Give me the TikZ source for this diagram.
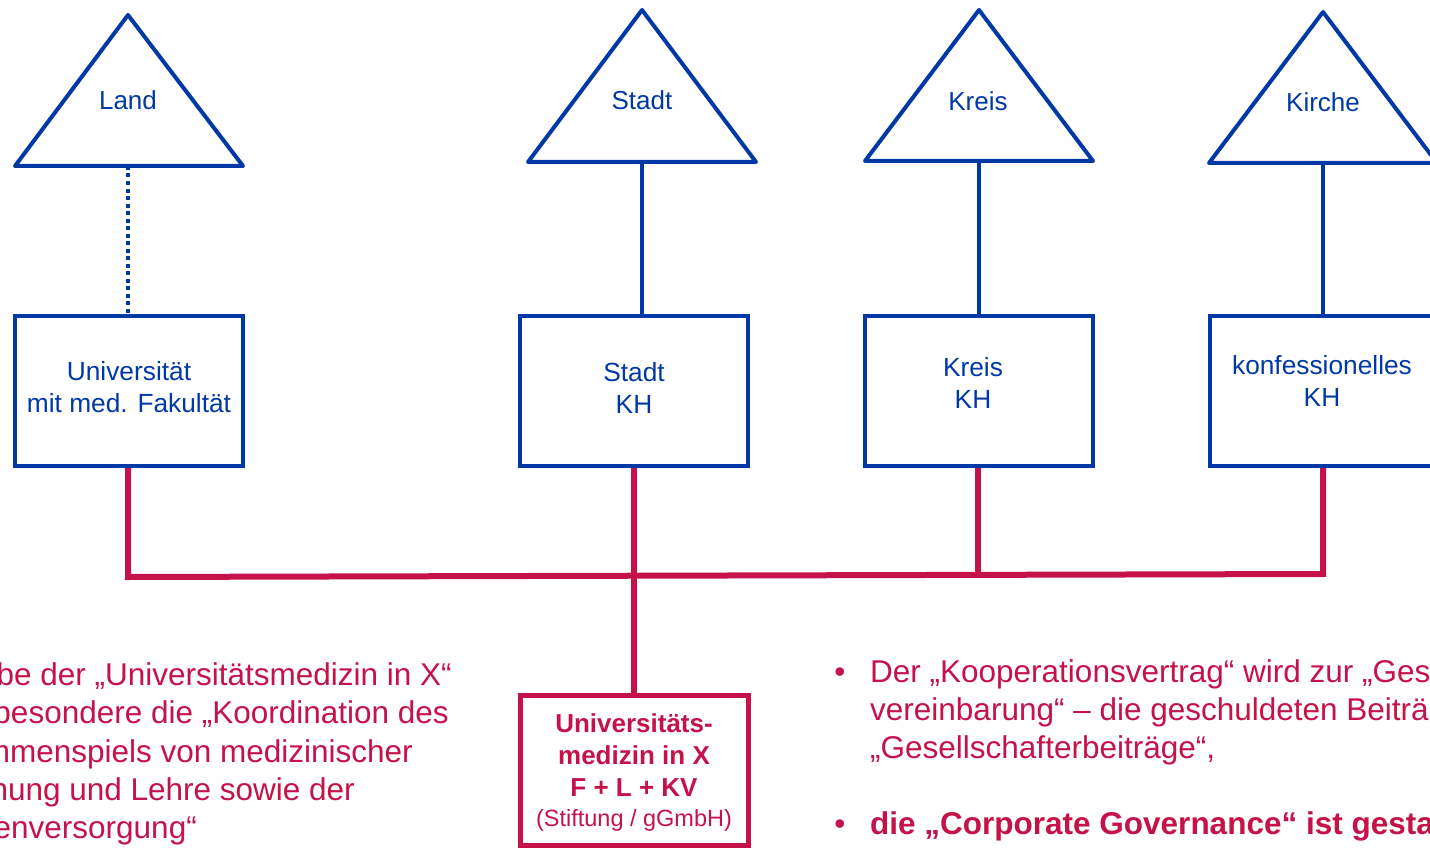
\documentclass[tikz,border=0pt]{standalone}
\usepackage{fontspec}
\setmainfont{Liberation Sans}
\definecolor{uniblue}{RGB}{0,57,166}
\definecolor{unired}{RGB}{198,18,74}
\begin{document}
\begin{tikzpicture}[x=1pt,y=-1pt,
  tri/.style={draw=uniblue, line width=4pt, line join=round},
  trilabel/.style={text=uniblue, inner sep=0pt, font=\fontsize{26}{30}\selectfont},
  bluebox/.style={draw=uniblue, line width=4pt, minimum width=228pt, minimum height=150pt, inner sep=0pt},
  boxtext/.style={text=uniblue, align=center, inner sep=0pt, font=\fontsize{26.3}{32}\selectfont},
  redbox/.style={draw=unired, line width=5pt, minimum width=228pt, minimum height=150pt, inner sep=0pt},
  blueline/.style={draw=uniblue, line width=4pt},
  dotline/.style={draw=uniblue, line width=4.5pt, dash pattern=on 4pt off 3.5pt},
  redline/.style={draw=unired, line width=6pt, line join=miter},
  para/.style={text=unired, inner sep=0pt, font=\fontsize{31.5}{38}\selectfont},
]
\useasboundingbox (0,0) rectangle (1430,848);
\clip (0,0) rectangle (1430,848);

% owners (triangles)
\draw[tri] (128,15) -- (243,166) -- (15,166) -- cycle;
\draw[tri] (642,10) -- (756,162) -- (528,162) -- cycle;
\draw[tri] (979,10) -- (1093,161) -- (865,161) -- cycle;
\draw[tri] (1323,12) -- (1437,163) -- (1209,163) -- cycle;
\coordinate (landb) at (128,166);
\coordinate (stadtb) at (642,162);
\coordinate (kreisb) at (979,161);
\coordinate (kircheb) at (1323,163);
\node[trilabel] (landt) at (128,100) {Land};
\node[trilabel] (stadtt) at (642,100) {Stadt};
\node[trilabel] (kreist) at (978,101) {Kreis};
\node[trilabel] (kirchet) at (1323,102) {Kirche};

% institutions
\node[bluebox] (uni) at (129,391) {};
\node[bluebox] (skh) at (634,391) {};
\node[bluebox] (kkh) at (979,391) {};
\node[bluebox] (konf) at (1324,391) {};
\node[boxtext] (unit) at (129,387) {Universität\\mit med. Fakultät};
\node[boxtext] (skht) at (634,388) {Stadt\\KH};
\node[boxtext] (kkht) at (973,383) {Kreis\\KH};
\node[boxtext] (konft) at (1322,381) {konfessionelles\\KH};

% ownership lines
\draw[dotline] (landb) -- (landb |- uni.north);
\draw[blueline] (stadtb) -- (stadtb |- skh.north);
\draw[blueline] (kreisb) -- (kreisb |- kkh.north);
\draw[blueline] (kircheb) -- (kircheb |- konf.north);

% university medicine
\node[redbox] (um) at (634,770) {};
\node[text=unired, align=center, inner sep=0pt, font=\fontsize{26}{32}\selectfont\bfseries] (umt) at (634,755)
  {Universitäts-\\medizin in X\\F + L + KV};
\node[text=unired, inner sep=0pt, font=\fontsize{23.5}{28}\selectfont, anchor=base] (umf) at (634,826) {(Stiftung / gGmbH)};

% red connectors
\coordinate (j1) at (128,577);
\coordinate (j4) at (1323,574);
\coordinate (jk) at (978,574.9);
\draw[redline] (uni.south -| j1) -- (j1) -- (j4) -- (konf.south -| j4);
\draw[redline] (skh.south) -- (um.north);
\draw[redline] (kkh.south -| jk) -- (jk);

% left paragraph
\node[para, anchor=base east] (l1) at (452,685) {be der „Universitätsmedizin in X“};
\node[para, anchor=base east] (l2) at (449,723) {besondere die „Koordination des};
\node[para, anchor=base east] (l3) at (413,762) {mmenspiels von medizinischer};
\node[para, anchor=base east] (l4) at (355,800) {hung und Lehre sowie der};
\node[para, anchor=base east] (l5) at (197,838) {enversorgung“};

% right bullets
\node[para, anchor=base] (b1) at (840,682) {•};
\node[para, anchor=base west] (r1) at (870,682) {Der „Kooperationsvertrag“ wird zur „Ges};
\node[para, anchor=base west] (r2) at (870,720) {vereinbarung“ – die geschuldeten Beiträ};
\node[para, anchor=base west] (r3) at (870,758) {„Gesellschafterbeiträge“,};
\node[para, anchor=base] (b2) at (840,834) {•};
\node[para, anchor=base west, font=\fontsize{31.5}{38}\selectfont\bfseries] (r4) at (870,834) {die „Corporate Governance“ ist gesta};
\end{tikzpicture}
\end{document}
